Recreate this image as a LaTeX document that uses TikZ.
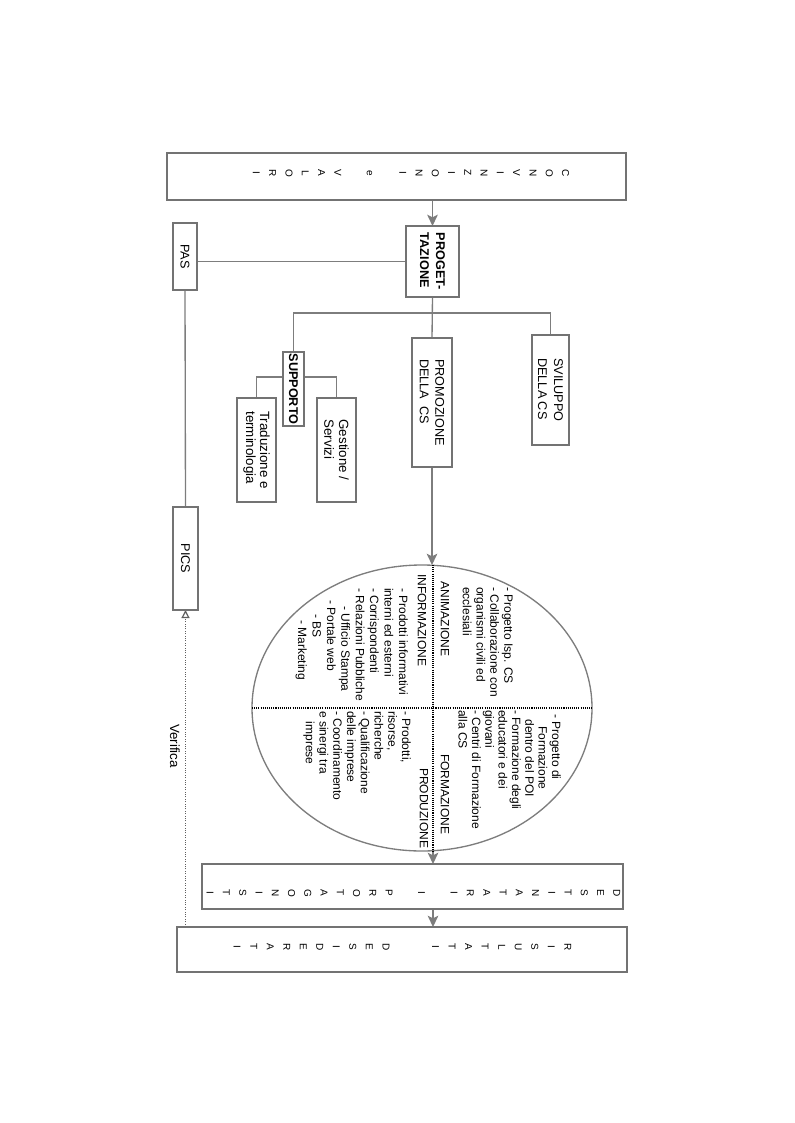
\documentclass[tikz,border=0pt]{standalone}
\usepackage{fontspec}
\setmainfont{Liberation Sans}
\usetikzlibrary{arrows.meta,shapes.geometric}
\definecolor{bgray}{RGB}{115,115,115}
\definecolor{lgray}{RGB}{125,125,125}
\definecolor{dgray}{RGB}{95,95,95}
\pgfdeclarelayer{bg}
\pgfsetlayers{bg,main}
\begin{document}
\begin{tikzpicture}[x=0.75pt,y=-0.75pt,
  box/.style={draw=bgray, line width=1.4pt, fill=white, inner sep=0pt, outer sep=0pt, rectangle},
  bsz/.style 2 args={minimum width=#1*0.75pt, minimum height=#2*0.75pt},
  conn/.style={draw=lgray, line width=1pt},
  arr/.style={conn, -{Stealth[length=8.5pt,width=8pt,inset=2pt]}},
  vline/.style={draw=dgray, line width=0.9pt, dash pattern=on 0.8pt off 1pt, -{Triangle[open,length=6pt,width=6pt]}},
  dotl/.style={draw=black, line width=1.1pt, dash pattern=on 0.8pt off 0.8pt},
  lbl/.style={rotate=-90, inner sep=0pt, font=\fontsize{9.5}{11.5}\selectfont, align=left},
  stk/.style={rotate=-90, inner sep=0pt, align=center},
  etx/.style={rotate=-90, inner sep=0pt, font=\fontsize{9}{10.4}\selectfont, align=left, anchor=north west},
  ttl/.style={rotate=-90, inner sep=0pt, font=\fontsize{9}{10.4}\selectfont},
]
\useasboundingbox (0,0) rectangle (794,1123);

% boxes
\node[box, bsz={459}{47}] (conv) at (396.5,176.5) {};
\node[box, bsz={53}{71}, line width=1.6pt] (prog) at (432.5,261.5) {};
\node[box, bsz={24}{67}] (pas) at (185,256.5) {};
\node[box, bsz={37}{110}] (svil) at (550.5,390) {};
\node[box, bsz={40}{129}] (prom) at (432,402.5) {};
\node[box, bsz={21}{74}] (supp) at (293.5,389) {};
\node[box, bsz={39}{104}] (trad) at (256.5,450) {};
\node[box, bsz={39}{104}] (gest) at (336.5,450) {};
\node[box, bsz={25}{103}] (pics) at (185.5,558.5) {};
\node[box, bsz={421}{45}] (dest) at (412.5,886.5) {};
\node[box, bsz={450}{45}] (ris) at (402,949.5) {};
\node[ellipse, draw=lgray, line width=1pt, fill=white, inner sep=0pt, outer sep=0pt,
      minimum width=340*0.75pt, minimum height=286*0.75pt] (ell) at (422,708) {};

\coordinate (br) at (433,313);
\coordinate (sb) at (296,377);
\coordinate (cx) at (433,708);

% connectors
\begin{pgfonlayer}{bg}
\draw[arr] (prog.north |- conv.south) -- (prog.north);
\draw[conn] (pas.east |- prog.west) -- (prog.west);
\draw[conn] (pas.south) -- (pics.north);
\draw[conn] (prog.south) -- (prom.north);
\draw[conn] (supp.north) |- (br) -| (svil.north);
\draw[conn] (trad.north) |- (sb) -| (gest.north);
\draw[arr] (prom.south) -- (prom.south |- ell.north);
\draw[arr] (cx |- ell.south) -- (cx |- dest.north);
\draw[arr] (cx |- dest.south) -- (cx |- ris.north);
\draw[vline] (pics.south |- ris.north) -- (pics.south);
\end{pgfonlayer}

% quadrant lines
\draw[dotl] (cx |- ell.north) -- (cx |- ell.south);
\draw[dotl] (ell.west) -- (ell.east);

% stacked letters
\node[stk, font=\fontsize{7.5}{12.2}\selectfont] (convt) at (411,173)
  {C\\O\\N\\V\\I\\N\\Z\\I\\O\\N\\I\\[12.2pt]e\\[12.2pt]V\\A\\L\\O\\R\\I};
\node[stk, font=\fontsize{7.5}{12.2}\selectfont] (destt) at (413.5,893)
  {D\\E\\S\\T\\I\\N\\A\\T\\A\\R\\I\\[12.2pt]I\\[12.2pt]P\\R\\O\\T\\A\\G\\O\\N\\I\\S\\T\\I};
\node[stk, font=\fontsize{7.5}{12.4}\selectfont] (rist) at (402.5,947)
  {R\\I\\S\\U\\L\\T\\A\\T\\I\\[24.8pt]D\\E\\S\\I\\D\\E\\R\\A\\T\\I};

% box labels
\node[lbl, font=\bfseries\fontsize{9.5}{12}\selectfont] (progt) at (prog) {PROGET-\\TAZIONE};
\node[lbl] (past) at (pas) {PAS};
\node[lbl, font=\fontsize{9.5}{12}\selectfont] (svilt) at (svil) {SVILUPPO\\DELLA CS};
\node[lbl, font=\fontsize{9.5}{11.5}\selectfont] (promt) at (prom) {PROMOZIONE\\DELLA\ \ CS};
\node[lbl, font=\bfseries\fontsize{9.5}{11.5}\selectfont] (suppt) at (supp) {SUPPORTO};
\node[lbl, font=\fontsize{10}{10.5}\selectfont] (tradt) at (trad) {Traduzione e\\terminologia};
\node[lbl, font=\fontsize{10}{11}\selectfont] (gestt) at (gest) {Gestione /\\Servizi};
\node[lbl] (picst) at (pics) {PICS};
\node[lbl, font=\fontsize{10}{12}\selectfont] (verif) at (175,746) {Verifica};

% ellipse texts
\node[etx] (urt) at (513,587)
  {- Progetto Isp. CS\\- Collaborazione con\\organismi civili ed\\ecclesiali};
\node[ttl] (anim) at (445,619) {ANIMAZIONE};
\node[ttl] (info) at (422,620) {INFORMAZIONE};
\node[etx, font=\fontsize{9}{10.8}\selectfont] (ult) at (408,588)
  {- Prodotti informativi\\interni ed esterni\\- Corrispondenti\\- Relazioni Pubbliche\\
   \hspace*{13.5pt}- Ufficio Stampa\\\hspace*{9pt}- Portale web\\\hspace*{19.5pt}- BS\\\hspace*{24pt}- Marketing};
\node[etx, font=\fontsize{9}{10}\selectfont] (lrt) at (561,710)
  {\hspace*{3pt}- Progetto di\\\hspace*{12pt}Formazione\\\hspace*{7pt}dentro del POI\\- Formazione degli\\educatori e dei\\giovani\\- Centri di Formazione\\alla CS};
\node[ttl] (form) at (445,794) {FORMAZIONE};
\node[etx, font=\fontsize{9}{10.3}\selectfont] (llt) at (411,711)
  {- Prodotti,\\risorse,\\richerche\\- Qualificazione\\delle imprese\\- Coordinamento\\e sinergi tra\\\hspace*{8pt}imprese};
\node[ttl] (prod) at (424,808) {PRODUZIONE};
\end{tikzpicture}
\end{document}
